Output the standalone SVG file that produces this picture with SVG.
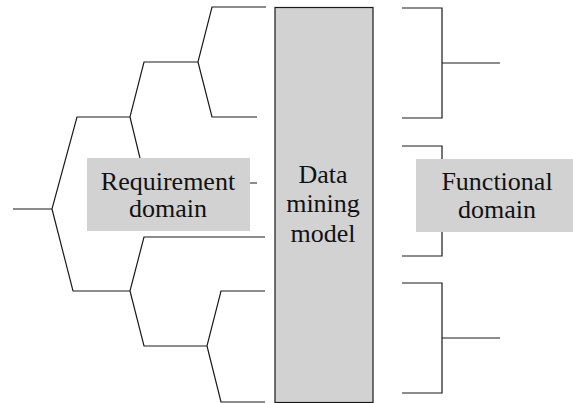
<svg xmlns="http://www.w3.org/2000/svg" width="573" height="403" viewBox="0 0 573 403">
<style>
.ln{fill:none;stroke:#1a1a1a;stroke-width:1.2}
.box{fill:#d2d2d2}
.bx{fill:#d2d2d2;stroke:#1a1a1a;stroke-width:1.2}
text{font-family:'Liberation Serif','Times New Roman',Times,Tinos,'DejaVu Serif','Noto Serif',serif;font-size:26px;fill:#111;text-anchor:middle}
</style>
<rect width="573" height="403" fill="#ffffff"/>
<g id="connectors">
<path class="ln" d="M13,209 H52 L77,117 H130 L144,62 H198 L212,7 H266 M198,62 L212,117 H257 M130,117 L146,183 H257 M52,209 L73,291 H130 L144,237 H265 M130,291 L144,346 H207 L221,291 H265 M207,346 L221,402 H265"/>
<path class="ln" d="M402,8 H442 V118 H402 M442,63 H500 M402,146 H442 V256 H402 M402,283 H442 V393 H402 M442,338 H500"/>
</g>
<g id="requirement">
<rect class="box" x="87" y="158" width="163" height="73"/>
<text x="168" y="190">Requirement</text>
<text x="168" y="217">domain</text>
</g>
<g id="data-mining-model">
<rect class="bx" x="275" y="7.5" width="98" height="395"/>
<text x="323" y="183">Data</text>
<text x="323" y="212">mining</text>
<text x="323" y="242">model</text>
</g>
<g id="functional">
<rect class="box" x="416" y="159" width="157" height="73"/>
<text x="497" y="190">Functional</text>
<text x="497" y="218">domain</text>
</g>
</svg>
